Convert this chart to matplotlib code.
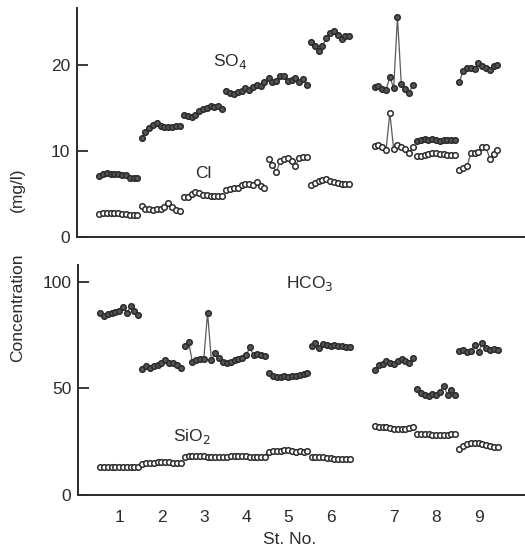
import matplotlib
matplotlib.use('Agg')
import matplotlib.pyplot as plt
import numpy as np

plt.rcParams['font.family'] = ['Liberation Sans', 'DejaVu Sans']

# station numbers and where they sit on the x axis (gap after 6)
stations = ['1', '2', '3', '4', '5', '6', '7', '8', '9']
st_pos = [1, 2, 3, 4, 5, 6, 7.5, 8.5, 9.5]

# samples per station (mg/l)
so4 = [
    [7.1, 7.3, 7.4, 7.3, 7.3, 7.3, 7.2, 7.2, 6.8, 6.8, 6.8],
    [11.5, 12.2, 12.6, 13.0, 13.2, 12.9, 12.8, 12.8, 12.8, 12.9, 12.9],
    [14.2, 14.0, 13.9, 14.2, 14.6, 14.9, 15.0, 15.2, 15.1, 15.2, 14.9],
    [16.9, 16.7, 16.6, 16.8, 17.0, 17.3, 17.1, 17.4, 17.6, 17.5, 18.0],
    [18.5, 18.0, 18.1, 18.7, 18.7, 18.1, 18.2, 18.5, 18.0, 18.4, 17.6],
    [22.7, 22.2, 21.6, 22.2, 23.1, 23.7, 23.9, 23.5, 23.0, 23.3, 23.3],
    [17.4, 17.5, 17.2, 17.1, 18.6, 17.3, 25.5, 17.8, 17.2, 16.7, 17.6],
    [11.2, 11.3, 11.4, 11.3, 11.4, 11.3, 11.2, 11.3, 11.3, 11.3, 11.3],
    [18.0, 19.3, 19.6, 19.6, 19.5, 20.2, 19.8, 19.6, 19.4, 19.8, 20.0],
]
cl = [
    [2.7, 2.8, 2.8, 2.8, 2.8, 2.8, 2.7, 2.7, 2.6, 2.5, 2.5],
    [3.6, 3.3, 3.2, 3.1, 3.3, 3.3, 3.5, 3.9, 3.5, 3.1, 3.0],
    [4.6, 4.7, 5.0, 5.2, 5.1, 4.9, 4.9, 4.8, 4.8, 4.8, 4.8],
    [5.5, 5.6, 5.7, 5.7, 6.0, 6.1, 6.2, 6.0, 6.4, 5.9, 5.7],
    [9.0, 8.4, 7.5, 8.8, 9.1, 9.2, 8.8, 8.2, 9.2, 9.3, 9.3],
    [6.0, 6.3, 6.5, 6.6, 6.7, 6.5, 6.4, 6.3, 6.2, 6.2, 6.2],
    [10.6, 10.7, 10.5, 10.1, 14.4, 10.2, 10.7, 10.5, 10.2, 9.8, 10.4],
    [9.4, 9.4, 9.5, 9.6, 9.7, 9.7, 9.6, 9.6, 9.5, 9.5, 9.5],
    [7.8, 8.0, 8.2, 9.7, 9.7, 9.9, 10.4, 10.4, 9.1, 9.6, 10.1],
]
hco3 = [
    [85.5, 84.2, 84.8, 85.5, 86.0, 86.5, 88.3, 85.5, 88.5, 86.5, 84.5],
    [59.2, 60.5, 59.8, 60.5, 61.0, 62.0, 63.4, 62.2, 61.8, 60.8, 59.8],
    [70.0, 72.0, 62.5, 63.5, 63.8, 63.8, 85.4, 63.5, 66.5, 64.5, 62.5],
    [62.0, 62.5, 63.3, 64.0, 64.5, 65.5, 69.3, 65.5, 66.0, 65.5, 65.3],
    [57.3, 56.0, 55.4, 55.6, 55.8, 55.4, 56.0, 55.8, 56.3, 56.8, 57.5],
    [70.0, 71.2, 69.2, 70.8, 70.6, 70.0, 70.3, 69.8, 70.0, 69.5, 69.3],
    [58.7, 60.8, 61.5, 63.0, 62.0, 61.5, 62.8, 63.8, 63.0, 62.0, 64.5],
    [49.8, 48.0, 46.8, 46.5, 47.5, 47.0, 48.5, 51.2, 46.8, 49.5, 47.0],
    [67.5, 68.0, 67.0, 67.8, 70.3, 67.2, 71.2, 69.0, 68.2, 68.5, 68.3],
]
sio2 = [
    [13.3, 13.2, 13.2, 13.2, 13.2, 13.1, 13.1, 13.0, 13.0, 13.1, 13.2],
    [14.5, 14.8, 15.0, 15.2, 15.4, 15.5, 15.5, 15.3, 15.0, 14.9, 14.8],
    [17.8, 18.2, 18.4, 18.5, 18.5, 18.3, 18.0, 17.8, 17.8, 17.7, 17.9],
    [18.0, 18.4, 18.5, 18.4, 18.2, 18.2, 17.9, 17.8, 17.6, 17.8, 18.0],
    [20.3, 20.6, 20.7, 20.8, 21.0, 21.3, 20.8, 20.3, 20.6, 20.2, 20.8],
    [17.8, 17.8, 17.7, 17.7, 17.5, 17.2, 17.1, 17.0, 17.0, 17.0, 17.0],
    [32.3, 32.0, 32.0, 31.8, 31.3, 31.0, 31.1, 31.2, 31.0, 31.5, 32.0],
    [28.8, 28.8, 28.7, 28.6, 28.3, 28.0, 28.0, 28.2, 28.3, 28.5, 28.8],
    [21.8, 23.2, 23.8, 24.4, 24.6, 24.3, 23.8, 23.5, 23.0, 22.5, 22.6],
]

INK = '#2b2b2b'


def draw_series(ax, data, filled):
    for pos, vals in zip(st_pos, data):
        n = len(vals)
        x = pos + np.linspace(-0.45, 0.45, n)
        ax.plot(x, vals, color='#5a5a5a', lw=0.9, zorder=2,
                marker='o', ms=4.0, mew=1.1, mec=INK,
                mfc='#555555' if filled else 'white')


def style_axis(ax, ymax, yticks):
    ax.set_xlim(0.03, 10.6)
    ax.set_ylim(0, ymax)
    ax.spines['top'].set_visible(False)
    ax.spines['right'].set_visible(False)
    for s in ('left', 'bottom'):
        ax.spines[s].set_linewidth(1.4)
        ax.spines[s].set_color(INK)
    ax.set_yticks(yticks)
    ax.tick_params(axis='y', direction='in', length=8, width=1.3,
                   labelsize=12.5, pad=5, colors=INK)


fig = plt.figure(figsize=(5.25, 5.52), dpi=100)
ax1 = fig.add_axes([0.147, 0.5707, 0.853, 0.4149])
ax2 = fig.add_axes([0.149, 0.1033, 0.851, 0.4167])

# top panel: SO4 and Cl
draw_series(ax1, so4, True)
draw_series(ax1, cl, False)
style_axis(ax1, 26.6, [0, 10, 20])
ax1.set_xticks([])
ax1.text(3.24, 19.9, 'SO$_4$', fontsize=12.5, color=INK)
ax1.text(2.82, 6.8, 'Cl', fontsize=12.5, color=INK)

# bottom panel: HCO3 and SiO2
draw_series(ax2, hco3, True)
draw_series(ax2, sio2, False)
style_axis(ax2, 108, [0, 50, 100])
ax2.set_xticks(st_pos)
ax2.set_xticklabels(stations)
ax2.tick_params(axis='x', length=0, labelsize=12.5, pad=11, colors=INK)
ax2.text(4.95, 97, 'HCO$_3$', fontsize=12.5, color=INK)
ax2.text(2.27, 25.5, 'SiO$_2$', fontsize=12.5, color=INK)

fig.text(0.034, 0.656, '(mg/l)', rotation=90, ha='center', va='center',
         fontsize=12.5, color=INK)
fig.text(0.034, 0.442, 'Concentration', rotation=90, ha='center', va='center',
         fontsize=12.5, color=INK)
fig.text(0.551, 0.022, 'St. No.', ha='center', va='center',
         fontsize=12.5, color=INK)

plt.savefig('out.png', dpi=100)
